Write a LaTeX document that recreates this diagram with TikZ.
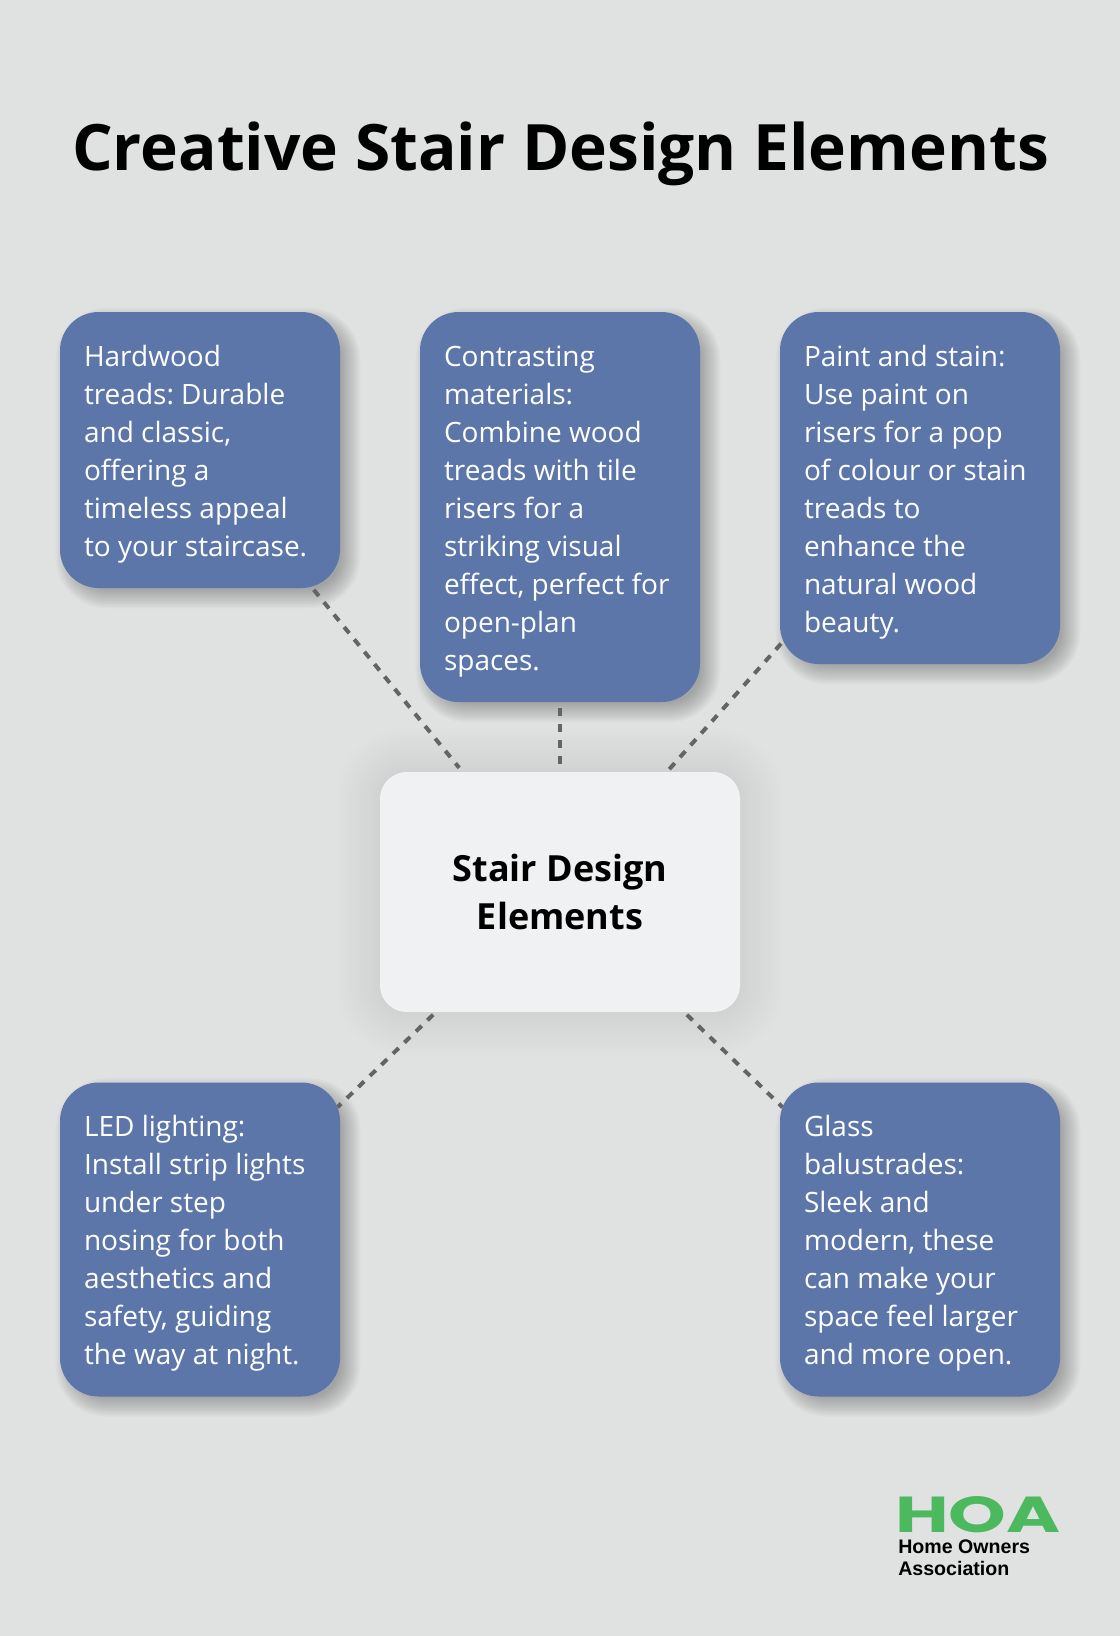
\documentclass[tikz,border=0pt]{standalone}
\usepackage{fontspec}
\setmainfont{Open Sans}
\newfontfamily\logofont{Liberation Sans}
\newfontfamily\hoafont{Poppins}
\usepackage{graphicx}
\pgfdeclarelayer{shadowlayer}
\pgfdeclarelayer{linelayer}
\pgfsetlayers{shadowlayer,linelayer,main}
\definecolor{pagegray}{HTML}{DFE2E1}
\definecolor{cardblue}{HTML}{5C76A9}
\definecolor{hubwhite}{HTML}{F0F1F3}
\definecolor{linegray}{HTML}{636565}
\definecolor{logogreen}{HTML}{4CB95F}
\tikzset{
    card/.style={fill=cardblue, text=white, rounded corners=29pt, inner sep=0pt,
        minimum width=210pt, minimum height=#1*28.5pt+36pt, text width=174pt, align=left,
        font=\frenchspacing\fontsize{21pt}{28.5pt}\selectfont,
        execute at begin node={\spaceskip=0pt\xspaceskip=0pt\rule{0pt}{22.5pt}},
        execute at end node={\rule[-6pt]{0pt}{6pt}}},
    hub/.style={fill=hubwhite, rounded corners=20pt, inner sep=0pt, minimum width=270pt,
        minimum height=180pt, align=center, font=\fontsize{27pt}{36pt}\selectfont\bfseries,
        execute at begin node={\rule{0pt}{24pt}}},
    dashline/.style={draw=linegray, line width=3pt, dash pattern=on 6pt off 6pt}
}
\begin{document}
\begin{tikzpicture}[x=0.75pt,y=-0.75pt]
        \useasboundingbox (0,0) rectangle (1120,1636);

        \node[font=\fontsize{48pt}{56pt}\selectfont\bfseries] (title) at (560.5,154) {Creative Stair Design Elements};

        \node[hub] (hub) at (560,892) {Stair Design\\Elements};
        \node[card=6] (hardwood) at (200,450) {Hardwood\\treads: Durable\\and classic,\\offering a\\timeless appeal\\to your staircase.};
        \node[card=9] (contrast) at (560,507) {Contrasting\\materials:\\Combine wood\\treads with tile\\risers for a\\striking visual\\effect, perfect for\\open-plan\\spaces.};
        \node[card=8] (paint) at (920,488) {Paint and stain:\\Use paint on\\risers for a pop\\of colour or stain\\treads to\\enhance the\\natural wood\\beauty.};
        \node[card=7] (led) at (200,1239.5) {LED lighting:\\Install strip lights\\under step\\nosing for both\\aesthetics and\\safety, guiding\\the way at night.};
        \node[card=7] (glass) at (920,1239.5) {Glass\\balustrades:\\Sleek and\\modern, these\\can make your\\space feel larger\\and more open.};

        \node[font=\hoafont\bfseries\fontsize{36pt}{36pt}\selectfont, text=logogreen, inner sep=0pt, anchor=north west] (hoa) at (895,1496) {\resizebox{124pt}{27pt}{HOA}};
        \node[font=\logofont\fontsize{14.7pt}{16.5pt}\selectfont\bfseries, inner sep=0pt, align=left, anchor=north west] (assoc) at (898,1540) {Home Owners\\Association};

        \begin{pgfonlayer}{linelayer}
            \foreach \a/\b/\s/\e in {hardwood/hub/2/5, contrast/hub/6/8, paint/hub/-2/-2, hub/led/3.5/-4, hub/glass/3.5/-4}
                \draw[dashline, shorten <=\s*0.75pt, shorten >=\e*0.75pt] (\a) -- (\b);
        \end{pgfonlayer}

        \begin{pgfonlayer}{shadowlayer}
            \fill[pagegray] (0,0) rectangle (1120,1636);
            \foreach \n in {hardwood,contrast,paint,led,glass}
                \foreach \r in {12,10.5,...,-8}
                    \fill[black, opacity=0.021, rounded corners=29pt+\r*0.75pt]
                        ([shift={(8-\r,8-\r)}]\n.north west) rectangle ([shift={(8+\r,8+\r)}]\n.south east);
            \foreach \r in {44,41,...,2}
                \fill[black, opacity=0.004, rounded corners=20pt+\r*0.75pt]
                    ([shift={(-\r,-\r)}]hub.north west) rectangle ([shift={(\r,\r)}]hub.south east);
        \end{pgfonlayer}
    \end{tikzpicture}
\end{document}
